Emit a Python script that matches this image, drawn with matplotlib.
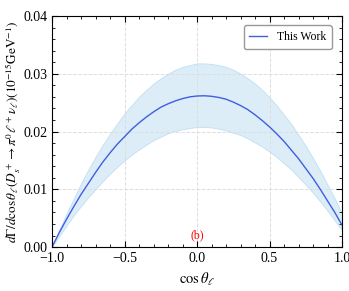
import numpy as np
import matplotlib
matplotlib.use("Agg")
import matplotlib.pyplot as plt
from matplotlib.ticker import MultipleLocator

# cos(theta_l) 格子 (0.05 刻み)
cos_theta = [-1.0, -0.95, -0.9, -0.85, -0.8, -0.75, -0.7, -0.65, -0.6, -0.55, -0.5,
             -0.45, -0.4, -0.35, -0.3, -0.25, -0.2, -0.15, -0.1, -0.05, 0.0,
             0.05, 0.1, 0.15, 0.2, 0.25, 0.3, 0.35, 0.4, 0.45, 0.5,
             0.55, 0.6, 0.65, 0.7, 0.75, 0.8, 0.85, 0.9, 0.95, 1.0]

# 中心値
central = [0.0, 0.0025, 0.0048, 0.0070, 0.0091, 0.0110, 0.0129, 0.0147, 0.0163, 0.0178, 0.0191,
           0.0204, 0.0215, 0.0225, 0.0234, 0.0242, 0.0248, 0.0253, 0.0257, 0.0260, 0.02615,
           0.02619, 0.0261, 0.0259, 0.0256, 0.0251, 0.0245, 0.0238, 0.0229, 0.0219, 0.0208,
           0.0196, 0.0183, 0.0168, 0.0153, 0.0136, 0.0119, 0.0100, 0.0080, 0.0060, 0.0038]

# 誤差帯（上限・下限）
upper = [0.0, 0.0030, 0.0058, 0.0084, 0.0110, 0.0134, 0.0156, 0.0177, 0.0196, 0.0214, 0.0231,
         0.0246, 0.0260, 0.0272, 0.0283, 0.0292, 0.0300, 0.0307, 0.0312, 0.0315, 0.0318,
         0.0318, 0.0317, 0.0315, 0.0312, 0.0307, 0.0300, 0.0292, 0.0283, 0.0272, 0.0259,
         0.0245, 0.0229, 0.0213, 0.0194, 0.0175, 0.0154, 0.0132, 0.0108, 0.0084, 0.0058]
lower = [0.0, 0.0019, 0.0037, 0.0055, 0.0071, 0.0086, 0.0100, 0.0114, 0.0127, 0.0139, 0.0150,
         0.0160, 0.0169, 0.0177, 0.0185, 0.0191, 0.0197, 0.0201, 0.0204, 0.0206, 0.0208,
         0.0208, 0.0207, 0.0205, 0.0202, 0.0198, 0.0194, 0.0188, 0.0181, 0.0174, 0.0165,
         0.0156, 0.0145, 0.0134, 0.0121, 0.0108, 0.0094, 0.0079, 0.0063, 0.0046, 0.0029]

plt.rcParams["font.family"] = ["Liberation Serif", "DejaVu Serif"]
plt.rcParams["mathtext.fontset"] = "stix"

fig = plt.figure(figsize=(3.49, 2.91), dpi=100)
ax = fig.add_axes([0.149, 0.151, 0.831, 0.794])

# 誤差帯と中心線
ax.fill_between(cos_theta, lower, upper, color="#d4e9f7", alpha=0.8,
                edgecolor="#b5daf0", linewidth=0.6)
ax.plot(cos_theta, central, color="#3f5fe0", linewidth=1.0, label="This Work")

ax.set_xlim(-1, 1)
ax.set_ylim(0, 0.04)
ax.xaxis.set_major_locator(MultipleLocator(0.5))
ax.xaxis.set_minor_locator(MultipleLocator(0.1))
ax.yaxis.set_major_locator(MultipleLocator(0.01))
ax.yaxis.set_minor_locator(MultipleLocator(0.002))
ax.xaxis.set_major_formatter(plt.FuncFormatter(lambda v, p: f"{v:.1f}".replace("-", "\u2212")))
ax.yaxis.set_major_formatter(plt.FuncFormatter(lambda v, p: f"{v:.2f}"))

ax.tick_params(which="both", direction="in", top=True, right=True, labelsize=10)
ax.tick_params(which="major", length=4, width=0.8)
ax.tick_params(which="minor", length=2.5, width=0.6)

ax.grid(True, which="major", linestyle="--", color="#dddddd", linewidth=0.7)

# ラベル
ax.set_xlabel(r"$\cos\theta_\ell$", fontsize=10.5)
ax.set_ylabel(r"$d\Gamma/d\cos\theta_\ell(D_s^+\to\pi^0\ell^+\nu_\ell)(10^{-15}\mathrm{GeV}^{-1})$",
              fontsize=9.5)
ax.yaxis.set_label_coords(-0.10, 0.5)

ax.text(0.0, 0.0021, "(b)", color="red", fontsize=8.5, ha="center", va="center")

ax.legend(loc="upper right", fontsize=8.5, fancybox=True, framealpha=1,
          edgecolor="#999999", handlelength=1.5, borderpad=0.5,
          bbox_to_anchor=(0.985, 0.985))

fig.savefig("out.png", dpi=100)
